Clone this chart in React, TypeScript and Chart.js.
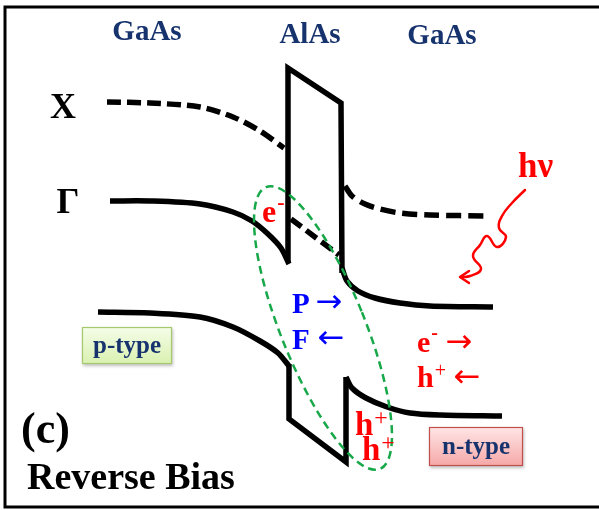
import React, { useEffect, useRef } from "react";
import { Chart, registerables } from "chart.js";
Chart.register(...registerables);

type P = [number, number];

// ---- band-diagram curves (diagram units = picture pixels, y grows downward) ----
const xBandLeft: P[] = [[107, 102], [150, 103], [200, 107], [233, 117], [260, 131], [284, 148]];
const xBandRight: P[] = [[345, 186], [352, 196], [365, 204], [380, 209], [400, 213], [430, 215], [490, 216]];
const gammaLeft: P[] = [[110, 201], [150, 201], [200, 204], [233, 212], [252, 221], [268, 234], [281, 248], [289, 264]];
const gammaBarrier: P[] = [[291, 219], [339, 255]];
const gammaRight: P[] = [[342, 268], [347, 281], [358, 291], [375, 298], [400, 303], [430, 306], [493, 307]];
const barrierCB: P[] = [[288, 262], [288, 68], [341, 103], [342, 273]];
const valenceLeft: P[] = [[98, 312], [150, 313], [200, 317], [233, 327], [260, 341], [278, 353], [289, 366]];
const barrierVB: P[] = [[289, 364], [289, 419], [346, 462], [346, 377]];
const valenceRight: P[] = [[346, 377], [352, 388], [366, 398], [387, 407], [410, 413], [440, 415], [502, 416]];
const photonPath: P[] = [[525, 190], [512, 203], [502, 216], [499, 228], [506, 237], [497, 247], [487, 236], [480, 245], [473, 256], [481, 269], [470, 276], [461, 277]];
const photonHead: P[] = [[469, 271], [460, 277], [469, 283]];
// tilted ellipse: centre x, centre y, half-width, half-height, tilt (deg)
const fieldRegion = [323, 328, 42, 152, -22];

// ---- labels ----
const materialNames = ["GaAs", "AlAs", "GaAs"];
const materialAt: P[] = [[147, 40], [310, 43], [442, 44]];
const bandNames = ["X", "Γ"];
const bandAt: P[] = [[63, 118], [68, 213]];
const dopingNames = ["p-type", "n-type"];
const dopingBoxes = [[82, 327, 172, 364], [429, 427, 523, 466]];
const panelLabel = "(c)";
const biasLabel = "Reverse Bias";
const photonLabel = "hν";

const SERIF = "'Liberation Serif', 'Times New Roman', serif";
const ARROWF = "'DejaVu Sans', sans-serif";
const NAVY = "#17336e";
const RED = "#ff0000";
const BLUE = "#0000ff";

function toXY(pts: P[]) {
  return pts.map(([x, y]) => ({ x, y }));
}

function line(pts: P[], opts: any = {}) {
  return {
    data: toXY(pts),
    showLine: true,
    borderColor: "#000",
    borderWidth: 5.5,
    pointRadius: 0,
    fill: false,
    tension: 0.3,
    borderCapStyle: "butt",
    borderJoinStyle: "miter",
    ...opts,
  };
}

const drawPlugin = {
  id: "diagram",
  beforeDraw(chart: any) {
    const { ctx, width, height } = chart;
    ctx.save();
    ctx.fillStyle = "#fff";
    ctx.fillRect(0, 0, width, height);
    ctx.restore();
  },
  afterDatasetsDraw(chart: any) {
    const { ctx } = chart;
    const sx = chart.scales.x;
    const sy = chart.scales.y;
    const X = (v: number) => sx.getPixelForValue(v);
    const Y = (v: number) => sy.getPixelForValue(v);
    ctx.save();

    // frame
    ctx.strokeStyle = "#000";
    ctx.lineWidth = 3;
    ctx.beginPath();
    ctx.moveTo(X(599), Y(7));
    ctx.lineTo(X(5), Y(7));
    ctx.lineTo(X(5), Y(507));
    ctx.lineTo(X(599), Y(507));
    ctx.stroke();

    // dashed ellipse
    const [cx, cy, rx, ry, rot] = fieldRegion;
    ctx.strokeStyle = "#18a84a";
    ctx.lineWidth = 2.5;
    ctx.setLineDash([8, 5]);
    ctx.beginPath();
    ctx.ellipse(X(cx), Y(cy), X(cx + rx) - X(cx), Y(cy + ry) - Y(cy), (rot * Math.PI) / 180, 0, Math.PI * 2);
    ctx.stroke();
    ctx.setLineDash([]);

    // doping boxes
    dopingBoxes.forEach((b, i) => {
      const x0 = X(b[0]), y0 = Y(b[1]), x1 = X(b[2]), y1 = Y(b[3]);
      const g = ctx.createLinearGradient(0, y0, 0, y1);
      if (i === 0) {
        g.addColorStop(0, "#f5fde9");
        g.addColorStop(1, "#d9f1b0");
      } else {
        g.addColorStop(0, "#ffe6e6");
        g.addColorStop(1, "#f6a7a7");
      }
      ctx.shadowColor = "rgba(0,0,0,0.25)";
      ctx.shadowBlur = 3;
      ctx.shadowOffsetX = 1;
      ctx.shadowOffsetY = 2;
      ctx.fillStyle = g;
      ctx.fillRect(x0, y0, x1 - x0, y1 - y0);
      ctx.shadowColor = "transparent";
      ctx.lineWidth = 1.2;
      ctx.strokeStyle = i === 0 ? "#a6c96e" : "#c0504d";
      ctx.strokeRect(x0 + 0.5, y0 + 0.5, x1 - x0 - 1, y1 - y0 - 1);
      ctx.fillStyle = NAVY;
      ctx.font = `bold 25px ${SERIF}`;
      ctx.textAlign = "center";
      ctx.textBaseline = "alphabetic";
      ctx.fillText(dopingNames[i], (x0 + x1) / 2, y0 + (i === 0 ? 26 : 27));
    });

    const text = (s: string, x: number, y: number, font: string, color: string, align = "left", base = "alphabetic") => {
      ctx.font = font;
      ctx.fillStyle = color;
      ctx.textAlign = align;
      ctx.textBaseline = base;
      ctx.fillText(s, X(x), Y(y));
      return ctx.measureText(s).width;
    };
    const sup = (b: string, s: string, x: number, y: number, size: number, color: string, supSize: number, lift: number, supBold = true) => {
      const w = text(b, x, y, `bold ${size}px ${SERIF}`, color);
      text(s, x + w + 1, y - lift, `${supBold ? "bold " : ""}${supSize}px ${SERIF}`, color);
    };
    const arrow = (s: string, xc: number, yc: number, color: string, size = 32) => {
      text(s, xc, yc, `${size}px ${ARROWF}`, color, "center", "middle");
    };

    materialNames.forEach((m, i) => text(m, materialAt[i][0], materialAt[i][1], `bold 29px ${SERIF}`, NAVY, "center"));
    bandNames.forEach((m, i) => text(m, bandAt[i][0], bandAt[i][1], `bold 36px ${SERIF}`, "#000", "center"));

    // barrier electron
    sup("e", "-", 262, 222, 32, RED, 22, 13);
    // photon
    text(photonLabel, 518, 177, `bold 35px ${SERIF}`, RED);
    // polarisation / field
    text("P", 292, 313, `bold 29px ${SERIF}`, BLUE);
    arrow("→", 329, 304, BLUE, 32);
    text("F", 292, 349, `bold 29px ${SERIF}`, BLUE);
    arrow("←", 331, 340, BLUE, 32);
    // carriers flow
    sup("e", "-", 417, 352, 30, RED, 20, 13);
    arrow("→", 459, 344, RED, 32);
    sup("h", "+", 417, 387, 30, RED, 20, 10, false);
    arrow("←", 467, 379, RED, 32);
    // accumulated holes
    sup("h", "+", 355, 435, 33, RED, 24, 10, false);
    sup("h", "+", 362, 460, 33, RED, 24, 10, false);

    text(panelLabel, 21, 443, `bold 44px ${SERIF}`, "#000");
    text(biasLabel, 27, 489, `bold 38px ${SERIF}`, "#000");

    ctx.restore();
  },
};

export default function App() {
  const ref = useRef<HTMLCanvasElement | null>(null);
  useEffect(() => {
    if (!ref.current) return;
    const chart = new Chart(ref.current, {
      type: "scatter",
      data: {
        datasets: [
          line(xBandLeft, { borderDash: [14, 6] }),
          line(xBandRight, { borderDash: [15, 7] }),
          line(gammaLeft),
          line(gammaBarrier, { borderDash: [13, 6], tension: 0 }),
          line(gammaRight),
          line(barrierCB, { tension: 0 }),
          line(valenceLeft),
          line(barrierVB, { tension: 0 }),
          line(valenceRight),
          line(photonPath, { borderColor: RED, borderWidth: 2.5, tension: 0.45, borderCapStyle: "round" }),
          line(photonHead, { borderColor: RED, borderWidth: 2.5, tension: 0, borderCapStyle: "round", borderJoinStyle: "round" }),
        ] as any,
      },
      options: {
        animation: false,
        responsive: true,
        maintainAspectRatio: false,
        layout: { padding: 0 },
        events: [],
        scales: {
          x: { type: "linear", min: 0, max: 599, display: false },
          y: { type: "linear", min: 0, max: 510, reverse: true, display: false },
        },
        plugins: { legend: { display: false }, tooltip: { enabled: false } },
      },
      plugins: [drawPlugin],
    } as any);
    return () => chart.destroy();
  }, []);
  return (
    <div style={{ position: "fixed", left: 0, top: 0, width: 599, height: 510, background: "#fff" }}>
      <canvas ref={ref} />
    </div>
  );
}
